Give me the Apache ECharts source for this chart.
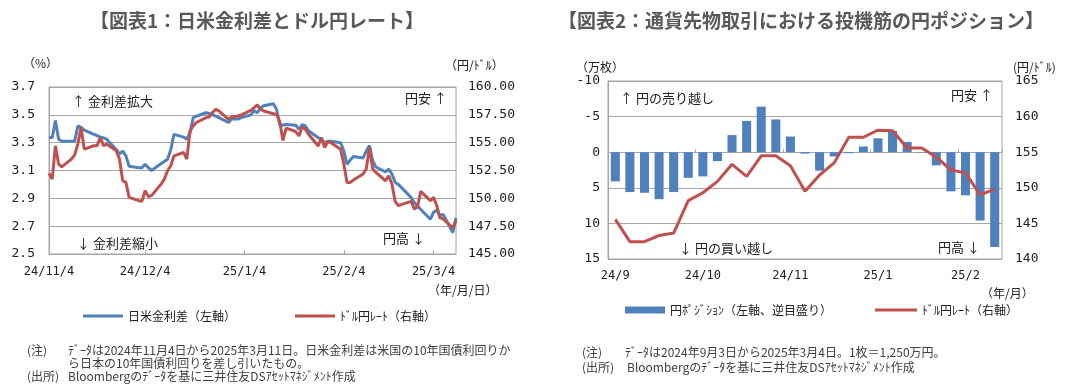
<!DOCTYPE html>
<html><head><meta charset="utf-8">
<script src="https://cdn.jsdelivr.net/npm/echarts@6/dist/echarts.min.js"></script>
<style>html,body{margin:0;padding:0;background:#fff;}#c{width:1087px;height:391px;}</style>
</head><body><div id="c"></div>
<script>
// ---- Chart 1 data: daily, 2024/11/4 - 2025/3/11 ----
const rateDates = [
'2024-11-04','2024-11-05','2024-11-06','2024-11-07','2024-11-08','2024-11-11','2024-11-12','2024-11-13','2024-11-14','2024-11-15',
'2024-11-18','2024-11-19','2024-11-20','2024-11-21','2024-11-22','2024-11-25','2024-11-26','2024-11-27','2024-11-28','2024-11-29',
'2024-12-02','2024-12-03','2024-12-04','2024-12-05','2024-12-06','2024-12-09','2024-12-10','2024-12-11','2024-12-12','2024-12-13',
'2024-12-16','2024-12-17','2024-12-18','2024-12-19','2024-12-20','2024-12-23','2024-12-24','2024-12-25','2024-12-26','2024-12-27',
'2024-12-30','2024-12-31','2025-01-02','2025-01-03','2025-01-06','2025-01-07','2025-01-08','2025-01-09','2025-01-10','2025-01-13',
'2025-01-14','2025-01-15','2025-01-16','2025-01-17','2025-01-20','2025-01-21','2025-01-22','2025-01-23','2025-01-24','2025-01-27',
'2025-01-28','2025-01-29','2025-01-30','2025-01-31','2025-02-03','2025-02-04','2025-02-05','2025-02-06','2025-02-07','2025-02-10',
'2025-02-11','2025-02-12','2025-02-13','2025-02-14','2025-02-17','2025-02-18','2025-02-19','2025-02-20','2025-02-21','2025-02-24',
'2025-02-25','2025-02-26','2025-02-27','2025-02-28','2025-03-03','2025-03-04','2025-03-05','2025-03-06','2025-03-07','2025-03-10',
'2025-03-11'];
const rateSpread = [
3.34,3.335,3.46,3.325,3.31,3.31,3.31,3.42,3.41,3.39,
3.36,3.35,3.34,3.335,3.325,3.25,3.22,3.24,3.205,3.13,
3.12,3.12,3.145,3.12,3.10,3.15,3.165,3.18,3.25,3.36,
3.34,3.325,3.37,3.48,3.49,3.515,3.51,3.50,3.49,3.48,
3.445,3.47,3.47,3.48,3.50,3.53,3.515,3.55,3.565,3.58,
3.54,3.43,3.425,3.43,3.425,3.395,3.43,3.42,3.385,3.335,
3.325,3.30,3.31,3.31,3.30,3.24,3.145,3.175,3.20,3.19,
3.24,3.28,3.17,3.125,3.09,3.11,3.075,3.015,3.00,2.93,
2.905,2.87,2.845,2.82,2.75,2.80,2.815,2.775,2.785,2.655,
2.76];
const rateUsdJpy = [
152.24,151.73,154.72,153.07,152.84,153.52,153.9,154.87,156.36,154.42,
154.72,154.72,155.46,154.72,154.87,154.27,153.52,151.58,151.43,150.09,
149.79,149.73,150.69,150.15,150.24,151.28,151.73,152.48,152.93,153.82,
154.12,153.52,156.06,156.51,156.81,157.25,157.31,157.7,158.0,157.85,
157.1,157.31,157.4,157.49,157.9,158.15,158.4,158.0,157.85,157.6,
157.55,156.9,155.2,156.3,156.0,155.6,156.4,156.2,155.76,154.7,
155.46,154.57,155.1,155.0,154.4,153.07,151.43,151.43,151.64,152.18,
152.63,154.57,152.63,152.33,151.58,152.03,151.28,149.73,149.34,149.64,
149.73,149.04,149.25,150.63,149.79,150.09,149.34,148.24,148.15,147.34,
148.0];
const rateAxisStart = '2024-11-04';
const rateAxisEnd = '2025-03-11';
const rateTickDates = ['2024-11-04','2024-12-04','2025-01-04','2025-02-04','2025-03-04'];

// ---- Chart 2 data: weekly, 2024/9/3 - 2025/3/4 ----
const posWeeks = ['2024/9/3','2024/9/10','2024/9/17','2024/9/24','2024/10/1','2024/10/8','2024/10/15','2024/10/22','2024/10/29',
'2024/11/5','2024/11/12','2024/11/19','2024/11/26','2024/12/3','2024/12/10','2024/12/17','2024/12/24','2024/12/31',
'2025/1/7','2025/1/14','2025/1/21','2025/1/28','2025/2/4','2025/2/11','2025/2/18','2025/2/25','2025/3/4'];
const posNet = [4.1,5.6,5.7,6.6,5.6,3.6,3.4,1.25,-2.4,-4.4,-6.4,-4.6,-2.2,0.2,2.6,0.6,0.15,-0.8,-1.95,-3.0,-1.45,0.05,1.85,5.5,6.05,9.6,13.3];
const posUsdJpy = [145.56,142.44,142.44,143.3,143.65,148.2,149.3,150.9,153.3,151.6,154.5,154.5,153.1,149.5,151.8,153.5,157.1,157.1,158.1,158.0,155.6,155.6,154.3,152.5,152.1,149.0,149.8];

const BLUE = '#4F81BD', RED = '#C0504D', GRID = '#A6A6A6', TXT = '#222';
const MONO = '"DejaVu Sans Mono", monospace';
const JP = '"Noto Sans CJK JP", sans-serif';
const DAY = 86400000;
function utc(s){ const a = s.split(/[-\/]/).map(Number); return Date.UTC(a[0], a[1]-1, a[2]); }
const ORIGIN = utc(rateAxisStart);
function dayNo(s){ return Math.round((utc(s) - ORIGIN) / DAY); }
function dayLabel(v){ const d = new Date(ORIGIN + v*DAY); return (d.getUTCFullYear()%100)+'/'+(d.getUTCMonth()+1)+'/'+d.getUTCDate(); }
function ym(s){ const a = s.split('/'); return (a[0]%100)+'/'+a[1]; }

function txt(text, x, y, align, font, fill){
  return {type:'text', silent:true, style:{text:text, x:x, y:y, font:font, fill:fill||TXT,
    align:align, verticalAlign:'middle', textAlign:align, textVerticalAlign:'middle'}};
}
const F12 = '12px ' + JP, F13 = '13px ' + JP, FT = 'bold 19px ' + JP;
const tickDays = rateTickDates.map(dayNo);

const chart = echarts.init(document.getElementById('c'), null, {renderer:'canvas'});
chart.setOption({
  animation:false,
  backgroundColor:'#fff',
  grid:[
    {left:49, top:87, width:407, height:167, show:true, borderColor:GRID, borderWidth:1},
    {left:608, top:81, width:394, height:178, show:true, borderColor:GRID, borderWidth:1}
  ],
  xAxis:[
    {type:'value', gridIndex:0, min:dayNo(rateAxisStart), max:dayNo(rateAxisEnd),
      axisLine:{show:true, onZero:false, lineStyle:{color:GRID}},
      axisTick:{show:true, inside:true, length:4, lineStyle:{color:GRID}, customValues:tickDays},
      axisLabel:{customValues:tickDays, formatter:dayLabel, fontFamily:MONO, fontSize:12, color:TXT, margin:12},
      splitLine:{show:false}},
    {type:'category', gridIndex:1, data:posWeeks, position:'bottom',
      axisLine:{show:false, onZero:false}, axisTick:{show:false},
      axisLabel:{interval:5, formatter:ym, fontFamily:MONO, fontSize:12, color:TXT, margin:11},
      splitLine:{show:false}},
    {type:'category', gridIndex:1, data:posWeeks, position:'bottom',
      axisLine:{show:true, onZero:true, lineStyle:{color:GRID}},
      axisTick:{show:true, inside:true, interval:5, length:3, lineStyle:{color:GRID}},
      axisLabel:{show:false}, splitLine:{show:false}}
  ],
  yAxis:[
    {type:'value', gridIndex:0, min:2.5, max:3.7, interval:0.2,
      axisLine:{show:true, lineStyle:{color:GRID}}, axisTick:{show:false},
      axisLabel:{formatter:v=>v.toFixed(1), fontFamily:MONO, fontSize:13, color:TXT, margin:14},
      splitLine:{show:true, lineStyle:{color:GRID, width:1}}},
    {type:'value', gridIndex:0, position:'right', min:145, max:160, interval:2.5,
      axisLine:{show:false}, axisTick:{show:false},
      axisLabel:{formatter:v=>v.toFixed(2), fontFamily:MONO, fontSize:13, color:TXT, margin:12},
      splitLine:{show:false}},
    {type:'value', gridIndex:1, inverse:true, min:-10, max:15, interval:5,
      axisLine:{show:true, lineStyle:{color:GRID}}, axisTick:{show:false},
      axisLabel:{fontFamily:MONO, fontSize:13, color:TXT, margin:8},
      splitLine:{show:true, lineStyle:{color:GRID, width:1}}},
    {type:'value', gridIndex:1, position:'right', min:140, max:165, interval:5,
      axisLine:{show:false}, axisTick:{show:false},
      axisLabel:{fontFamily:MONO, fontSize:13, color:TXT, margin:13},
      splitLine:{show:false}}
  ],
  legend:[
    {left:78, top:305, data:['日米金利差（左軸）'], icon:'rect', itemWidth:40, itemHeight:3,
      textStyle:{fontFamily:JP, fontSize:12, color:TXT}},
    {left:290, top:305, data:['ﾄﾞﾙ円ﾚｰﾄ（右軸）'], icon:'rect', itemWidth:40, itemHeight:3,
      textStyle:{fontFamily:JP, fontSize:12, color:TXT}},
    {left:620, top:299, data:['円ﾎﾟｼﾞｼｮﾝ（左軸、逆目盛り）'], icon:'rect', itemWidth:40, itemHeight:7,
      textStyle:{fontFamily:JP, fontSize:12, color:TXT}},
    {left:870, top:299, data:['ﾄﾞﾙ円ﾚｰﾄ（右軸）'], icon:'rect', itemWidth:42, itemHeight:3,
      textStyle:{fontFamily:JP, fontSize:12, color:TXT}}
  ],
  series:[
    {name:'日米金利差（左軸）', type:'line', xAxisIndex:0, yAxisIndex:0, symbol:'none',
      data:rateDates.map((d,i)=>[dayNo(d), rateSpread[i]]), lineStyle:{color:BLUE, width:3}, itemStyle:{color:BLUE}, z:3},
    {name:'ﾄﾞﾙ円ﾚｰﾄ（右軸）', type:'line', xAxisIndex:0, yAxisIndex:1, symbol:'none',
      data:rateDates.map((d,i)=>[dayNo(d), rateUsdJpy[i]]), lineStyle:{color:RED, width:3}, itemStyle:{color:RED}, z:4},
    {name:'円ﾎﾟｼﾞｼｮﾝ（左軸、逆目盛り）', type:'bar', xAxisIndex:1, yAxisIndex:2, data:posNet,
      barWidth:'62%', itemStyle:{color:BLUE}, z:2},
    {name:'ﾄﾞﾙ円ﾚｰﾄ（右軸）', type:'line', xAxisIndex:1, yAxisIndex:3, symbol:'none', data:posUsdJpy,
      lineStyle:{color:RED, width:3}, itemStyle:{color:RED}, z:4}
  ],
  graphic:[
    txt('【図表1：日米金利差とドル円レート】', 257, 21, 'center', FT, '#595959'),
    txt('【図表2：通貨先物取引における投機筋の円ポジション】', 801, 21, 'center', FT, '#595959'),
    txt('（%）', 23, 63, 'left', F12),
    txt('（円/ﾄﾞﾙ）', 445, 65, 'left', F12),
    txt('（万枚）', 576, 67, 'left', F12),
    txt('(円/ﾄﾞﾙ)', 1013, 67, 'left', F12),
    txt('（年/月/日）', 428, 290, 'left', F12),
    txt('（年/月）', 981, 293, 'left', F12),
    txt('↑ 金利差拡大', 72, 101, 'left', F13),
    txt('↓ 金利差縮小', 77, 243, 'left', F13),
    txt('円安 ↑', 447, 98, 'right', F13),
    txt('円高 ↓', 425, 238, 'right', F13),
    txt('↑ 円の売り越し', 620, 98, 'left', F13),
    txt('↓ 円の買い越し', 679, 248, 'left', F13),
    txt('円安 ↑', 993, 95, 'right', F13),
    txt('円高 ↓', 980, 247, 'right', F13),
    txt('(注)', 27, 350, 'left', F12, '#404040'),
    txt('ﾃﾞｰﾀは2024年11月4日から2025年3月11日。日米金利差は米国の10年国債利回りか', 68, 350, 'left', F12, '#404040'),
    txt('ら日本の10年国債利回りを差し引いたもの。', 68, 363, 'left', F12, '#404040'),
    txt('(出所)', 27, 376, 'left', F12, '#404040'),
    txt('Bloombergのﾃﾞｰﾀを基に三井住友DSｱｾｯﾄﾏﾈｼﾞﾒﾝﾄ作成', 68, 376, 'left', F12, '#404040'),
    txt('(注)', 582, 352, 'left', F12, '#404040'),
    txt('ﾃﾞｰﾀは2024年9月3日から2025年3月4日。1枚＝1,250万円。', 625, 352, 'left', F12, '#404040'),
    txt('(出所)', 582, 367, 'left', F12, '#404040'),
    txt('Bloombergのﾃﾞｰﾀを基に三井住友DSｱｾｯﾄﾏﾈｼﾞﾒﾝﾄ作成', 627, 367, 'left', F12, '#404040')
  ]
});
</script></body></html>
